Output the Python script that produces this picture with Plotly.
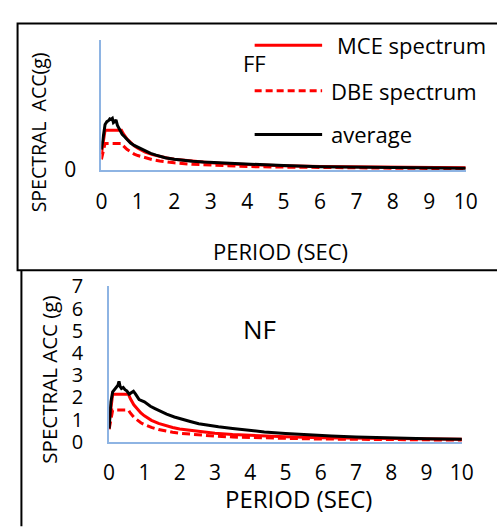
import plotly.graph_objects as go

W, H = 497, 527

# Design spectra (same for both sites)
period_design = [0, 0.1, 0.55, 0.6, 0.7, 0.8, 0.9, 1.0, 1.2, 1.4, 1.6, 1.8, 2.0,
                 2.5, 3.0, 3.5, 4.0, 5.0, 6.0, 7.0, 8.0, 9.0, 10.0]
mce_spectrum = [0.86, 2.14, 2.14, 1.95, 1.67, 1.46, 1.30, 1.17, 0.97, 0.83, 0.73,
                0.65, 0.58, 0.47, 0.39, 0.33, 0.29, 0.23, 0.19, 0.17, 0.15, 0.13, 0.12]
dbe_spectrum = [0.57, 1.43, 1.43, 1.30, 1.11, 0.97, 0.86, 0.78, 0.65, 0.56, 0.49,
                0.43, 0.39, 0.31, 0.26, 0.22, 0.19, 0.16, 0.13, 0.11, 0.10, 0.09, 0.08]

# Average response spectrum, far-field records
period_ff = [0, 0.05, 0.1, 0.15, 0.2, 0.23, 0.26, 0.3, 0.33, 0.36, 0.4, 0.44, 0.5,
             0.57, 0.63, 0.7, 0.8, 0.9, 1.0, 1.1, 1.2, 1.35, 1.5, 1.75, 2.0, 2.2,
             2.5, 2.8, 3.3, 4.0, 5.0, 6.0, 7.0, 8.0, 9.0, 10.0]
avg_ff = [1.1, 1.9, 2.45, 2.6, 2.66, 2.75, 2.72, 2.78, 2.55, 2.6, 2.69, 2.4, 2.15,
          1.92, 1.8, 1.64, 1.45, 1.32, 1.22, 1.12, 1.02, 0.9, 0.8, 0.66, 0.58, 0.53,
          0.47, 0.43, 0.38, 0.31, 0.24, 0.18, 0.15, 0.13, 0.11, 0.1]

# Average response spectrum, near-field records
period_nf = [0, 0.05, 0.1, 0.15, 0.2, 0.25, 0.28, 0.31, 0.35, 0.4, 0.45, 0.5, 0.57,
             0.63, 0.69, 0.75, 0.85, 1.0, 1.17, 1.3, 1.45, 1.63, 1.85, 2.08, 2.3,
             2.54, 2.8, 3.1, 3.5, 4.0, 4.4, 5.0, 5.7, 6.3, 7.0, 8.0, 9.0, 10.0]
avg_nf = [0.6, 1.8, 2.25, 2.35, 2.45, 2.55, 2.72, 2.5, 2.4, 2.45, 2.35, 2.3, 2.15,
          2.2, 2.28, 2.15, 1.9, 1.8, 1.6, 1.5, 1.38, 1.25, 1.12, 1.0, 0.92, 0.82,
          0.75, 0.68, 0.6, 0.5, 0.45, 0.38, 0.31, 0.27, 0.22, 0.17, 0.14, 0.12]

x_ticks = list(range(0, 11))
y_ticks_nf = list(range(0, 8))
legend_names = ["MCE spectrum", "DBE spectrum", "average"]

FONT = "Open Sans"
RED = "#FF0000"
AXIS = "#8EB4E3"


def px(x):
    return x / W


def py(y):
    return 1 - y / H


fig = go.Figure()

panels = [("x", "y", period_ff, avg_ff), ("x2", "y2", period_nf, avg_nf)]
for xa, ya, per, avg in panels:
    fig.add_trace(go.Scatter(x=period_design, y=mce_spectrum, xaxis=xa, yaxis=ya,
                             mode="lines", line=dict(color=RED, width=3),
                             name=legend_names[0], showlegend=False))
    fig.add_trace(go.Scatter(x=period_design, y=dbe_spectrum, xaxis=xa, yaxis=ya,
                             mode="lines", line=dict(color=RED, width=3, dash="8px,4px"),
                             name=legend_names[1], showlegend=False))
    fig.add_trace(go.Scatter(x=per, y=avg, xaxis=xa, yaxis=ya,
                             mode="lines", line=dict(color="black", width=3),
                             name=legend_names[2], showlegend=False))

axis_common = dict(showgrid=False, zeroline=False, showline=True, linecolor=AXIS,
                   linewidth=2, ticks="", fixedrange=True)

fig.update_layout(
    width=W, height=H, margin=dict(l=0, r=0, t=0, b=0),
    paper_bgcolor="white", plot_bgcolor="white",
    font=dict(family=FONT, color="black", size=21),
    xaxis=dict(domain=[px(99), px(477)], range=[0, 10], anchor="y",
               tickvals=x_ticks, ticklabelstandoff=12,
               tickfont=dict(size=21), **axis_common),
    yaxis=dict(domain=[py(164.5), py(27)], range=[0, 7], anchor="x",
               tickvals=[0], ticktext=["0"], ticklabelstandoff=19,
               tickfont=dict(size=21), **axis_common),
    xaxis2=dict(domain=[px(107), px(473)], range=[0, 10], anchor="y2",
                tickvals=x_ticks, ticklabelstandoff=11,
                tickfont=dict(size=21), **axis_common),
    yaxis2=dict(domain=[py(451), py(287)], range=[0, 7], anchor="x2",
                tickvals=y_ticks_nf, ticklabelstandoff=20,
                tickfont=dict(size=20), **axis_common),
)

shapes = [
    # frame around the far-field panel
    dict(type="rect", xref="paper", yref="paper", x0=px(12), x1=px(520),
         y0=py(270), y1=py(10), line=dict(color="black", width=2)),
    # frame edge of the near-field panel
    dict(type="line", xref="paper", yref="paper", x0=px(16), x1=px(16),
         y0=py(270), y1=py(540), line=dict(color="black", width=2)),
    # legend samples
    dict(type="line", xref="paper", yref="paper", x0=px(258), x1=px(328),
         y0=py(33), y1=py(33), line=dict(color=RED, width=3)),
    dict(type="line", xref="paper", yref="paper", x0=px(258), x1=px(328),
         y0=py(81), y1=py(81), line=dict(color=RED, width=3, dash="7px,4px")),
    dict(type="line", xref="paper", yref="paper", x0=px(258), x1=px(328),
         y0=py(127), y1=py(127), line=dict(color="black", width=3)),
]
fig.update_layout(shapes=shapes)


def label(text, x, y, size, angle=0, xanchor="center"):
    fig.add_annotation(text=text, xref="paper", yref="paper", x=px(x), y=py(y),
                       xanchor=xanchor, yanchor="middle", showarrow=False,
                       textangle=angle, font=dict(family=FONT, size=size, color="black"))


label(legend_names[0], 341, 33, 22, xanchor="left")
label(legend_names[1], 335, 81, 22, xanchor="left")
label(legend_names[2], 335, 126, 22, xanchor="left")
label("FF", 258, 52, 22)
label("NF", 263, 332, 26)
label("PERIOD (SEC)", 285, 250, 22)
label("PERIOD (SEC)", 304, 511, 24)
label("SPECTRAL  ACC(g)", 34, 125, 19.5, angle=-90)
label("SPECTRAL ACC (g)", 45, 385, 20.5, angle=-90)

# page without default body margin so the figure fills the window exactly
fig.write_html("out.html", post_script="document.body.style.margin='0';")
